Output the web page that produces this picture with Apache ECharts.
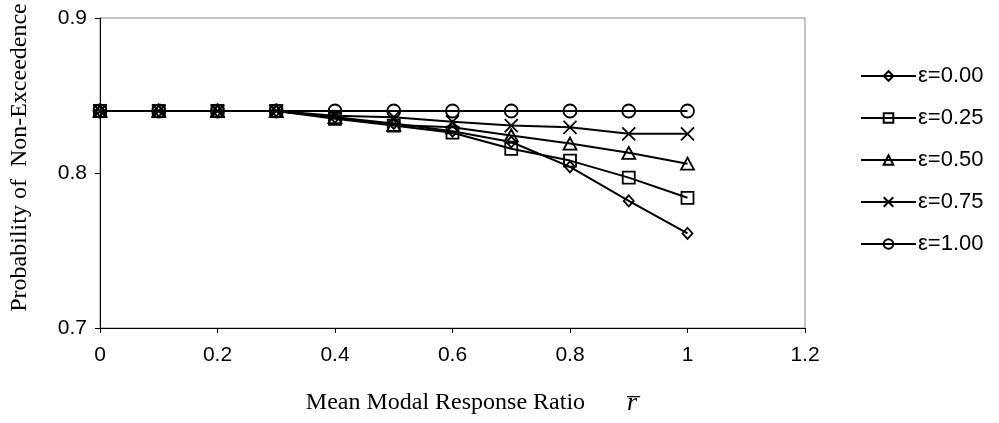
<!DOCTYPE html>
<html><head><meta charset="utf-8">
<script src="https://cdn.jsdelivr.net/npm/echarts@6/dist/echarts.min.js"></script>
<style>html,body{margin:0;padding:0;background:#fff}#c{width:999px;height:423px}</style>
</head><body><div id="c"></div>
<script>
var xValues = [0, 0.1, 0.2, 0.3, 0.4, 0.5, 0.6, 0.7, 0.8, 0.9, 1.0];
var eps000 = [0.84, 0.84, 0.84, 0.84, 0.836, 0.832, 0.827, 0.820, 0.804, 0.782, 0.761];
var eps025 = [0.84, 0.84, 0.84, 0.84, 0.835, 0.8306, 0.826, 0.8156, 0.808, 0.797, 0.784];
var eps050 = [0.84, 0.84, 0.84, 0.84, 0.836, 0.831, 0.8295, 0.8242, 0.819, 0.813, 0.806];
var eps075 = [0.84, 0.84, 0.84, 0.84, 0.837, 0.836, 0.833, 0.8306, 0.8295, 0.8253, 0.8253];
var eps100 = [0.84, 0.84, 0.84, 0.84, 0.84, 0.84, 0.84, 0.84, 0.84, 0.84, 0.84];
var seriesNames = ['ε=0.00', 'ε=0.25', 'ε=0.50', 'ε=0.75', 'ε=1.00'];
var xTicks = [0, 0.2, 0.4, 0.6, 0.8, 1, 1.2];
var yTicks = [0.7, 0.8, 0.9];

var allData = [eps000, eps025, eps050, eps075, eps100];
var symbols = ['diamond', 'rect', 'triangle', 'path://M0,0L10,10M10,0L0,10', 'circle'];
var sizes = [[10, 11], 12, [13, 12], 13, 13];

function pairs(ys) { return xValues.map(function (x, i) { return [x, ys[i]]; }); }

var chart = echarts.init(document.getElementById('c'), null, {renderer: 'canvas'});
chart.setOption({
  animation: false,
  backgroundColor: '#fff',
  grid: {left: 100, right: 194, top: 18, bottom: 95, show: true, borderColor: '#888', borderWidth: 1,
    outerBoundsMode: 'none', containLabel: false},
  legend: {
    orient: 'vertical', left: 855, top: 60, itemWidth: 55, itemHeight: 12, itemGap: 20,
    textStyle: {fontFamily: 'Liberation Sans', fontSize: 22, color: '#000', padding: [0, 0, 0, -3]},
    data: seriesNames
  },
  xAxis: {
    type: 'value', min: 0, max: 1.2, interval: 0.2,
    name: 'Mean Modal Response Ratio       {r|r\u0305}', nameLocation: 'middle', nameGap: 62,
    nameTextStyle: {fontFamily: 'Liberation Serif', fontSize: 24, color: '#000', padding: [0, 0, 0, 38],
      rich: {r: {fontFamily: 'Liberation Serif', fontStyle: 'italic', fontSize: 26, color: '#000'}}},
    axisLine: {lineStyle: {color: '#000', width: 1}},
    axisTick: {show: true, inside: false, length: 5, lineStyle: {color: '#000'}},
    axisLabel: {fontFamily: 'Liberation Sans', fontSize: 21, color: '#000', margin: 17,
      formatter: function (v) { return String(Math.round(v * 10) / 10); }},
    splitLine: {show: false}
  },
  yAxis: {
    type: 'value', min: 0.7, max: 0.9, interval: 0.1,
    name: 'Probability of  Non-Exceedence', nameLocation: 'middle', nameGap: 68, nameRotate: 90,
    nameTextStyle: {fontFamily: 'Liberation Serif', fontSize: 24, color: '#000', padding: [0, 0, 0, 31]},
    axisLine: {show: true, lineStyle: {color: '#000', width: 1}},
    axisTick: {show: true, inside: false, length: 5, lineStyle: {color: '#000'}},
    axisLabel: {fontFamily: 'Liberation Sans', fontSize: 21, color: '#000', margin: 13,
      formatter: function (v) { return (Math.round(v * 10) / 10).toFixed(1); }},
    splitLine: {show: false}
  },
  series: allData.map(function (d, i) {
    return {
      name: seriesNames[i], type: 'line', data: pairs(d),
      symbol: symbols[i], symbolSize: sizes[i], showSymbol: true,
      lineStyle: {color: '#000', width: 2},
      itemStyle: {color: 'rgba(255,255,255,0)', borderColor: '#000', borderWidth: 1.8},
      emphasis: {disabled: true}
    };
  })
});
</script></body></html>
